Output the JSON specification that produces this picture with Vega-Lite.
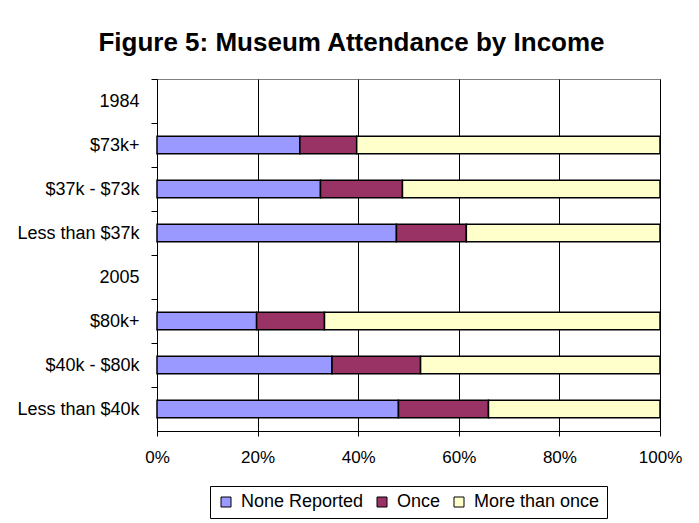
{
  "$schema": "https://vega.github.io/schema/vega-lite/v6.json",
  "width": 503,
  "height": 352,
  "autosize": "none",
  "padding": {"left": 157, "top": 79, "right": 39, "bottom": 92},
  "background": "white",
  "title": {
    "text": "Figure 5: Museum Attendance by Income",
    "fontSize": 26,
    "font": "Liberation Sans",
    "fontWeight": "bold",
    "color": "black",
    "anchor": "middle",
    "dx": -57,
    "offset": 23
  },
  "data": {
    "values": [
      {"group": "$73k+", "response": "None Reported", "pct": 28.4},
      {"group": "$73k+", "response": "Once", "pct": 11.3},
      {"group": "$73k+", "response": "More than once", "pct": 60.3},
      {"group": "$37k - $73k", "response": "None Reported", "pct": 32.5},
      {"group": "$37k - $73k", "response": "Once", "pct": 16.3},
      {"group": "$37k - $73k", "response": "More than once", "pct": 51.2},
      {"group": "Less than $37k", "response": "None Reported", "pct": 47.6},
      {"group": "Less than $37k", "response": "Once", "pct": 13.9},
      {"group": "Less than $37k", "response": "More than once", "pct": 38.5},
      {"group": "$80k+", "response": "None Reported", "pct": 19.8},
      {"group": "$80k+", "response": "Once", "pct": 13.5},
      {"group": "$80k+", "response": "More than once", "pct": 66.7},
      {"group": "$40k - $80k", "response": "None Reported", "pct": 34.8},
      {"group": "$40k - $80k", "response": "Once", "pct": 17.6},
      {"group": "$40k - $80k", "response": "More than once", "pct": 47.6},
      {"group": "Less than $40k", "response": "None Reported", "pct": 48.0},
      {"group": "Less than $40k", "response": "Once", "pct": 17.9},
      {"group": "Less than $40k", "response": "More than once", "pct": 34.1}
    ]
  },
  "transform": [
    {"calculate": "indexof(['None Reported', 'Once', 'More than once'], datum.response)", "as": "stackOrder"}
  ],
  "mark": {"type": "bar", "stroke": "black", "strokeWidth": 1.5},
  "encoding": {
    "y": {
      "field": "group",
      "type": "nominal",
      "scale": {
        "domain": ["1984", "$73k+", "$37k - $73k", "Less than $37k", "2005", "$80k+", "$40k - $80k", "Less than $40k"],
        "paddingInner": 0.6,
        "paddingOuter": 0.3
      },
      "axis": {
        "title": null,
        "tickOffset": -22,
        "labelOffset": 22,
        "domainColor": "black",
        "tickColor": "black",
        "tickSize": 6,
        "labelPadding": 12,
        "labelFont": "Liberation Sans",
        "labelFontSize": 18,
        "labelColor": "black",
        "grid": false
      }
    },
    "x": {
      "field": "pct",
      "type": "quantitative",
      "stack": "zero",
      "scale": {"domain": [0, 100], "nice": false},
      "axis": {
        "title": null,
        "values": [0, 20, 40, 60, 80, 100],
        "labelExpr": "datum.value + '%'",
        "grid": true,
        "gridColor": "black",
        "gridOpacity": 1,
        "domainColor": "black",
        "tickColor": "black",
        "tickSize": 5,
        "labelPadding": 13,
        "labelFont": "Liberation Sans",
        "labelFontSize": 17,
        "labelColor": "black",
        "labelFlush": false
      }
    },
    "order": {"field": "stackOrder", "type": "quantitative"},
    "color": {
      "field": "response",
      "type": "nominal",
      "sort": ["None Reported", "Once", "More than once"],
      "scale": {
        "domain": ["None Reported", "Once", "More than once"],
        "range": ["#9999FF", "#993366", "#FFFFCC"]
      },
      "legend": {
        "title": null,
        "orient": "none",
        "legendX": 53,
        "legendY": 407,
        "direction": "horizontal",
        "strokeColor": "black",
        "padding": 7,
        "labelFont": "Liberation Sans",
        "labelFontSize": 18,
        "labelColor": "black",
        "labelOffset": 6,
        "symbolType": "square",
        "symbolSize": 100,
        "symbolStrokeColor": "black",
        "symbolStrokeWidth": 1,
        "columnPadding": 9
      }
    }
  },
  "config": {"view": {"stroke": "#808080"}}
}
